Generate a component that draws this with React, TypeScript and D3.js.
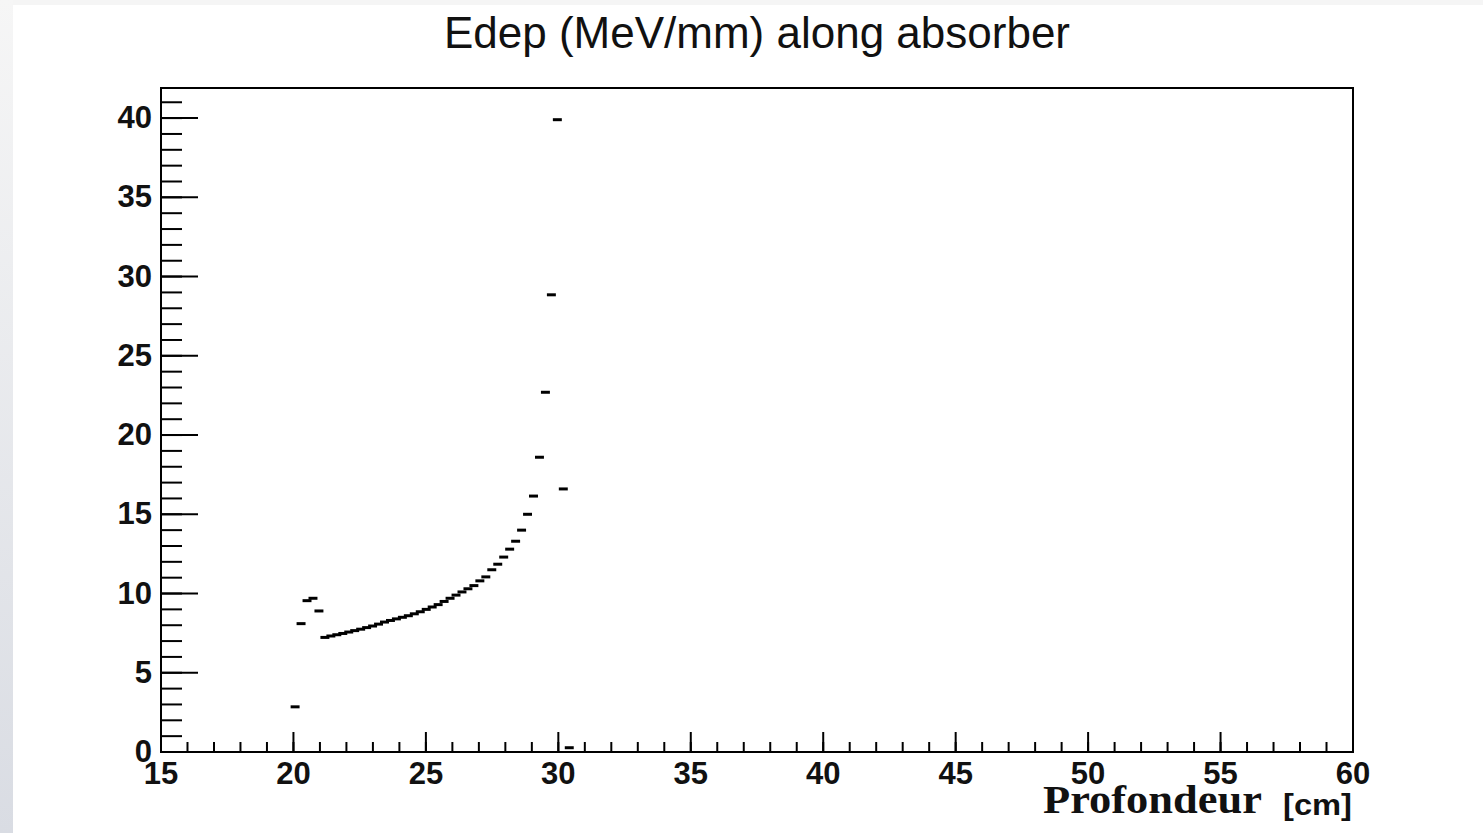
import React from "react";
import * as d3 from "d3";

// Histogram bin centres (cm) — 200 bins from 15 to 60 cm, width 0.225 cm
const depthCm: number[] = [
  20.0625, 20.2875, 20.5125, 20.7375, 20.9625, 21.1875, 21.4125, 21.6375, 21.8625, 22.0875,
  22.3125, 22.5375, 22.7625, 22.9875, 23.2125, 23.4375, 23.6625, 23.8875, 24.1125, 24.3375,
  24.5625, 24.7875, 25.0125, 25.2375, 25.4625, 25.6875, 25.9125, 26.1375, 26.3625, 26.5875,
  26.8125, 27.0375, 27.2625, 27.4875, 27.7125, 27.9375, 28.1625, 28.3875, 28.6125, 28.8375,
  29.0625, 29.2875, 29.5125, 29.7375, 29.9625, 30.1875, 30.4125,
];
// Energy deposit (MeV/mm) per bin
const edep: number[] = [
  2.85, 8.1, 9.55, 9.7, 8.9, 7.23, 7.32, 7.4, 7.48, 7.57,
  7.66, 7.75, 7.85, 7.95, 8.07, 8.2, 8.3, 8.4, 8.5, 8.6,
  8.72, 8.85, 9.0, 9.15, 9.3, 9.5, 9.7, 9.9, 10.1, 10.3,
  10.5, 10.8, 11.05, 11.5, 11.85, 12.3, 12.8, 13.3, 14.0, 15.0,
  16.15, 18.6, 22.7, 28.85, 39.9, 16.6, 0.27,
];
const binWidth = 0.225;
const xDomain: [number, number] = [15, 60];
const yDomain: [number, number] = [0, 41.9];
const xMajorTicks = [15, 20, 25, 30, 35, 40, 45, 50, 55, 60];
const yMajorTicks = [0, 5, 10, 15, 20, 25, 30, 35, 40];

const title = "Edep (MeV/mm) along absorber";
const xTitle = "Profondeur";
const xUnit = "[cm]";

export default function App() {
  const W = 1483, H = 833;
  const left = 161, right = 1353, top = 88, bottom = 752;
  const x = d3.scaleLinear().domain(xDomain).range([left, right]);
  const y = d3.scaleLinear().domain(yDomain).range([bottom, top]);
  const xMinor = d3.range(xDomain[0], xDomain[1] + 0.001, 1);
  const yMinor = d3.range(0, yDomain[1], 1);
  const sans = "'Liberation Sans', Arial, Helvetica, sans-serif";
  const serif = "'Liberation Serif', 'Times New Roman', serif";

  return (
    <div style={{ position: "fixed", left: 0, top: 0, width: W, height: H, overflow: "hidden" }}>
      <svg width={W} height={H} style={{ display: "block" }}>
        <defs>
          <linearGradient id="edge" x1="0" y1="0" x2="0" y2="1">
            <stop offset="0" stopColor="#f6f6f6" />
            <stop offset="1" stopColor="#d9dce3" />
          </linearGradient>
        </defs>
        <rect x={0} y={0} width={W} height={H} fill="#f5f5f5" />
        <rect x={0} y={0} width={13} height={H} fill="url(#edge)" />
        <rect x={13} y={5} width={W - 13} height={H - 5} fill="#ffffff" />

        <text x={757} y={48} textAnchor="middle" fontFamily={sans} fontSize={44} fill="#111">
          {title}
        </text>

        {/* minor ticks */}
        <g stroke="#000" strokeWidth={2}>
          {xMinor.map((v) => (
            <line key={"xm" + v} x1={x(v)} x2={x(v)} y1={bottom} y2={bottom - 10} />
          ))}
          {xMajorTicks.map((v) => (
            <line key={"xM" + v} x1={x(v)} x2={x(v)} y1={bottom} y2={bottom - 20} />
          ))}
          {yMinor.map((v) => (
            <line key={"ym" + v} x1={left} x2={left + 21} y1={y(v)} y2={y(v)} />
          ))}
          {yMajorTicks.map((v) => (
            <line key={"yM" + v} x1={left} x2={left + 37} y1={y(v)} y2={y(v)} />
          ))}
        </g>

        {/* frame */}
        <rect x={left} y={top} width={right - left} height={bottom - top} fill="none" stroke="#000" strokeWidth={2} />

        {/* tick labels */}
        <g fontFamily={sans} fontWeight="bold" fontSize={31} fill="#111">
          {xMajorTicks.map((v) => (
            <text key={"xl" + v} x={x(v)} y={784} textAnchor="middle">{v}</text>
          ))}
          {yMajorTicks.map((v) => (
            <text key={"yl" + v} x={152} y={y(v) + 10} textAnchor="end">{v}</text>
          ))}
        </g>

        {/* axis title */}
        <text x={1043} y={813} textLength={219} lengthAdjust="spacingAndGlyphs" fontFamily={serif} fontWeight="bold" fontSize={41} fill="#111">
          {xTitle}
        </text>
        <text x={1283} y={815} textLength={69} lengthAdjust="spacingAndGlyphs" fontFamily={sans} fontWeight="bold" fontSize={29} fill="#111">
          {xUnit}
        </text>

        {/* histogram bins drawn as horizontal bin-width markers */}
        <g stroke="#000" strokeWidth={3} strokeLinecap="square">
          {depthCm.map((d, i) => (
            <line
              key={"b" + i}
              x1={x(d - binWidth / 2)}
              x2={x(d + binWidth / 2)}
              y1={y(edep[i])}
              y2={y(edep[i])}
            />
          ))}
        </g>
      </svg>
    </div>
  );
}
